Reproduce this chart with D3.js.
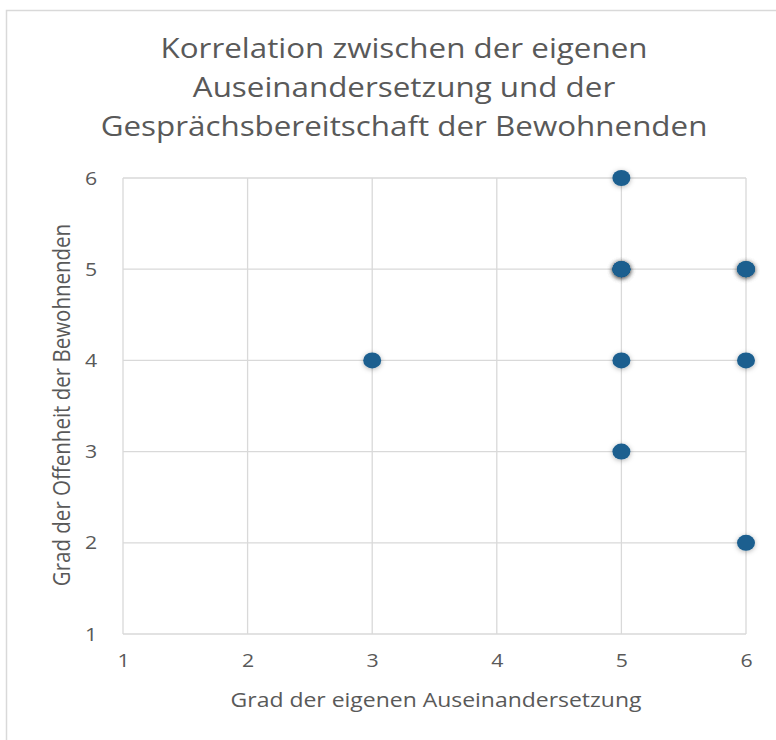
<!DOCTYPE html>
<html>
<head>
<meta charset="utf-8">
<script src="https://cdn.jsdelivr.net/npm/d3@7"></script>
<style>
  body { margin: 0; background: #fff; }
  text { font-family: "Open Sans", "Noto Sans", sans-serif; fill: #595959; }
</style>
</head>
<body>
<div id="chart"></div>
<script>
// frame size
const FRAME_WIDTH = 776;
const FRAME_HEIGHT = 740;
const MARGINS = {left: 123, right: 30, top: 178, bottom: 106};

const VIS_WIDTH = FRAME_WIDTH - MARGINS.left - MARGINS.right;
const VIS_HEIGHT = FRAME_HEIGHT - MARGINS.top - MARGINS.bottom;

// the reference picture is stretched a bit horizontally
const STRETCH = 1.12;

// data
const titleLines = ["Korrelation zwischen der eigenen", "Auseinandersetzung und der", "Gesprächsbereitschaft der Bewohnenden"];
const xLabel = "Grad der eigenen Auseinandersetzung";
const yLabel = "Grad der Offenheit der Bewohnenden";
const xTicks = [1, 2, 3, 4, 5, 6];
const yTicks = [1, 2, 3, 4, 5, 6];
const auseinandersetzung = [5, 5, 5, 5, 5, 6, 6, 6, 3, 5, 6, 5, 6];
const offenheit          = [6, 5, 5, 5, 5, 5, 5, 5, 4, 4, 4, 3, 2];

const svg = d3.select("#chart")
  .append("svg")
    .attr("width", FRAME_WIDTH)
    .attr("height", FRAME_HEIGHT);

// soft shadow for points
const filter = svg.append("defs").append("filter")
    .attr("id", "shadow")
    .attr("x", "-100%").attr("y", "-100%")
    .attr("width", "300%").attr("height", "300%");
filter.append("feDropShadow")
    .attr("dx", 0).attr("dy", 1)
    .attr("stdDeviation", 2.4)
    .attr("flood-color", "#000")
    .attr("flood-opacity", 0.3);

// chart area border
svg.append("rect")
    .attr("x", 6.5).attr("y", 10.5)
    .attr("width", FRAME_WIDTH + 10).attr("height", FRAME_HEIGHT + 10)
    .attr("fill", "none")
    .attr("stroke", "#d9d9d9")
    .attr("stroke-width", 1.5);

// title
svg.append("text")
    .attr("transform", "translate(404,58) scale(" + STRETCH + ",1)")
    .attr("text-anchor", "middle")
    .attr("font-size", 28)
  .selectAll("tspan")
  .data(titleLines)
  .enter()
  .append("tspan")
    .attr("x", 0)
    .attr("dy", (d, i) => i === 0 ? 0 : 39)
    .text(d => d);

const x = d3.scaleLinear()
    .domain([1, 6])
    .range([0, VIS_WIDTH]);

const y = d3.scaleLinear()
    .domain([1, 6])
    .range([VIS_HEIGHT, 0]);

const g = svg.append("g")
    .attr("transform", "translate(" + MARGINS.left + "," + MARGINS.top + ")");

// gridlines
g.append("g")
  .selectAll("line")
  .data(xTicks)
  .enter()
  .append("line")
    .attr("x1", d => x(d)).attr("x2", d => x(d))
    .attr("y1", 0).attr("y2", VIS_HEIGHT)
    .attr("stroke", "#d9d9d9")
    .attr("stroke-width", 1.3);

g.append("g")
  .selectAll("line")
  .data(yTicks)
  .enter()
  .append("line")
    .attr("x1", 0).attr("x2", VIS_WIDTH)
    .attr("y1", d => y(d)).attr("y2", d => y(d))
    .attr("stroke", "#d9d9d9")
    .attr("stroke-width", 1.3);

// axes (labels only)
const xAxis = g.append("g")
    .attr("transform", "translate(0," + VIS_HEIGHT + ")")
    .call(d3.axisBottom(x).tickValues(xTicks).tickSize(0).tickPadding(20).tickFormat(d3.format("d")));
xAxis.select(".domain").remove();
xAxis.selectAll("text")
    .attr("font-size", 19)
    .attr("fill", "#595959")
    .attr("transform", "scale(" + STRETCH + ",1)")
    .style("font-family", "'Open Sans', sans-serif");

const yAxis = g.append("g")
    .call(d3.axisLeft(y).tickValues(yTicks).tickSize(0).tickPadding(23).tickFormat(d3.format("d")));
yAxis.select(".domain").remove();
yAxis.selectAll("text")
    .attr("font-size", 19)
    .attr("fill", "#595959")
    .attr("transform", "scale(" + STRETCH + ",1)")
    .style("font-family", "'Open Sans', sans-serif");

// axis titles
svg.append("text")
    .attr("transform", "translate(436,707) scale(" + STRETCH + ",1)")
    .attr("text-anchor", "middle")
    .attr("font-size", 20.5)
    .text(xLabel);

svg.append("text")
    .attr("transform", "translate(70,405) scale(" + STRETCH + ",1) rotate(-90)")
    .attr("text-anchor", "middle")
    .attr("font-size", 20.5)
    .text(yLabel);

// points
g.append("g")
  .selectAll("ellipse")
  .data(auseinandersetzung)
  .enter()
  .append("ellipse")
    .attr("cx", d => x(d))
    .attr("cy", (d, i) => y(offenheit[i]))
    .attr("rx", 9)
    .attr("ry", 8)
    .attr("fill", "#1b5f8f")
    .attr("filter", "url(#shadow)");
</script>
</body>
</html>
